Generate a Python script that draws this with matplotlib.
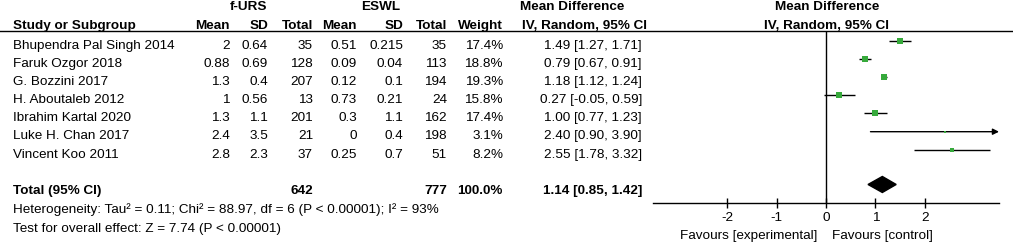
import matplotlib
matplotlib.use("Agg")
import matplotlib.pyplot as plt
from matplotlib.patches import Polygon

plt.rcParams['font.family'] = ['Liberation Sans', 'DejaVu Sans']

# ---- data ----
studies = ["Bhupendra Pal Singh 2014", "Faruk Ozgor 2018", "G. Bozzini 2017",
           "H. Aboutaleb 2012", "Ibrahim Kartal 2020", "Luke H. Chan 2017",
           "Vincent Koo 2011"]
furs_mean = ["2", "0.88", "1.3", "1", "1.3", "2.4", "2.8"]
furs_sd = ["0.64", "0.69", "0.4", "0.56", "1.1", "3.5", "2.3"]
furs_total = [35, 128, 207, 13, 201, 21, 37]
eswl_mean = ["0.51", "0.09", "0.12", "0.73", "0.3", "0", "0.25"]
eswl_sd = ["0.215", "0.04", "0.1", "0.21", "1.1", "0.4", "0.7"]
eswl_total = [35, 113, 194, 24, 162, 198, 51]
weights = [17.4, 18.8, 19.3, 15.8, 17.4, 3.1, 8.2]
md = [1.49, 0.79, 1.18, 0.27, 1.00, 2.40, 2.55]
ci_low = [1.27, 0.67, 1.12, -0.05, 0.77, 0.90, 1.78]
ci_high = [1.71, 0.91, 1.24, 0.59, 1.23, 3.90, 3.32]
total_md, total_low, total_high = 1.14, 0.85, 1.42
total_furs, total_eswl = 642, 777
heterogeneity = "Heterogeneity: Tau\u00b2 = 0.11; Chi\u00b2 = 88.97, df = 6 (P < 0.00001); I\u00b2 = 93%"
overall = "Test for overall effect: Z = 7.74 (P < 0.00001)"
xticks = [-2, -1, 0, 1, 2]
xlim = (-3.5, 3.5)

W, H = 1013, 243
fig = plt.figure(figsize=(W / 100, H / 100), dpi=100)
FS = 9.7
GREEN = '#36a93b'

# full-figure axes in pixel coordinates for table text
tab = fig.add_axes([0, 0, 1, 1])
tab.set_xlim(0, W)
tab.set_ylim(H, 0)
tab.axis('off')

# header
tab.text(249, 10, "f-URS", ha='center', va='baseline', fontsize=FS, fontweight='bold')
tab.text(381, 10, "ESWL", ha='center', va='baseline', fontsize=FS, fontweight='bold')
tab.text(572.5, 10, "Mean Difference", ha='center', va='baseline', fontsize=FS, fontweight='bold')
tab.text(827, 10, "Mean Difference", ha='center', va='baseline', fontsize=FS, fontweight='bold')
hdr_y = 29.3
tab.text(13, hdr_y, "Study or Subgroup", ha='left', va='baseline', fontsize=FS, fontweight='bold')
col_x = [230, 268, 313, 357, 403, 447, 503]
for x, lab in zip(col_x, ["Mean", "SD", "Total", "Mean", "SD", "Total", "Weight"]):
    tab.text(x, hdr_y, lab, ha='right', va='baseline', fontsize=FS, fontweight='bold')
tab.text(646.5, hdr_y, "IV, Random, 95% CI", ha='right', va='baseline', fontsize=FS, fontweight='bold')
tab.text(827, hdr_y, "IV, Random, 95% CI", ha='center', va='baseline', fontsize=FS, fontweight='bold')
tab.axhline(31, xmin=0, xmax=1012 / W, color='black', lw=1.0)

# rows
for i, s in enumerate(studies):
    y = 49.2 + 18.05 * i
    tab.text(13, y, s, ha='left', va='baseline', fontsize=FS)
    vals = [furs_mean[i], furs_sd[i], str(furs_total[i]), eswl_mean[i], eswl_sd[i],
            str(eswl_total[i]), f"{weights[i]:.1f}%"]
    for x, v in zip(col_x, vals):
        tab.text(x, y, v, ha='right', va='baseline', fontsize=FS)
    tab.text(642, y, f"{md[i]:.2f} [{ci_low[i]:.2f}, {ci_high[i]:.2f}]",
             ha='right', va='baseline', fontsize=FS)

ty = 194
tab.text(13, ty, "Total (95% CI)", ha='left', va='baseline', fontsize=FS, fontweight='bold')
tab.text(313, ty, str(total_furs), ha='right', va='baseline', fontsize=FS, fontweight='bold')
tab.text(447, ty, str(total_eswl), ha='right', va='baseline', fontsize=FS, fontweight='bold')
tab.text(503, ty, f"{sum(weights):.1f}%", ha='right', va='baseline', fontsize=FS, fontweight='bold')
tab.text(642, ty, f"{total_md:.2f} [{total_low:.2f}, {total_high:.2f}]",
         ha='right', va='baseline', fontsize=FS, fontweight='bold')
tab.text(13, 213, heterogeneity, ha='left', va='baseline', fontsize=FS)
tab.text(13, 231.7, overall, ha='left', va='baseline', fontsize=FS)

# forest axes
top_px, bot_px, left_px, right_px = 31, 202.7, 653, 999
ax = fig.add_axes([left_px / W, (H - bot_px) / H, (right_px - left_px) / W, (bot_px - top_px) / H])
ax.patch.set_alpha(0)
row0, dy = 40.7, 18.2
ax.set_ylim((bot_px - row0) / dy, (top_px - row0) / dy)
ax.set_xlim(*xlim)
for sp in ['top', 'left', 'right']:
    ax.spines[sp].set_visible(False)
ax.spines['bottom'].set_linewidth(1.0)
ax.set_yticks([])
ax.set_xticks(xticks)
ax.set_xticklabels([str(t) for t in xticks])
ax.tick_params(axis='x', direction='inout', length=7, width=1.0, pad=3, labelsize=FS)
ax.axvline(0, color='black', lw=1.0)

for i in range(len(studies)):
    hi = ci_high[i]
    if hi > xlim[1]:
        ax.annotate('', xy=(xlim[1], i), xytext=(ci_low[i], i),
                    arrowprops=dict(arrowstyle='-|>', color='black', lw=1.0,
                                    mutation_scale=9, shrinkA=0, shrinkB=0))
    else:
        ax.plot([ci_low[i], hi], [i, i], color='black', lw=1.0, solid_capstyle='butt')
    ax.plot(md[i], i, marker='s', linestyle='none', color=GREEN,
            markersize=1.08 * weights[i] ** 0.5, markeredgewidth=0, zorder=3)

total_row = 7.9
h = 0.44
ax.add_patch(Polygon([[total_low, total_row], [total_md, total_row - h],
                      [total_high, total_row], [total_md, total_row + h]],
                     closed=True, color='black'))

tab.text(817, 239, "Favours [experimental]", ha='right', va='baseline', fontsize=FS)
tab.text(832, 239, "Favours [control]", ha='left', va='baseline', fontsize=FS)

fig.savefig("out.png", dpi=100)
